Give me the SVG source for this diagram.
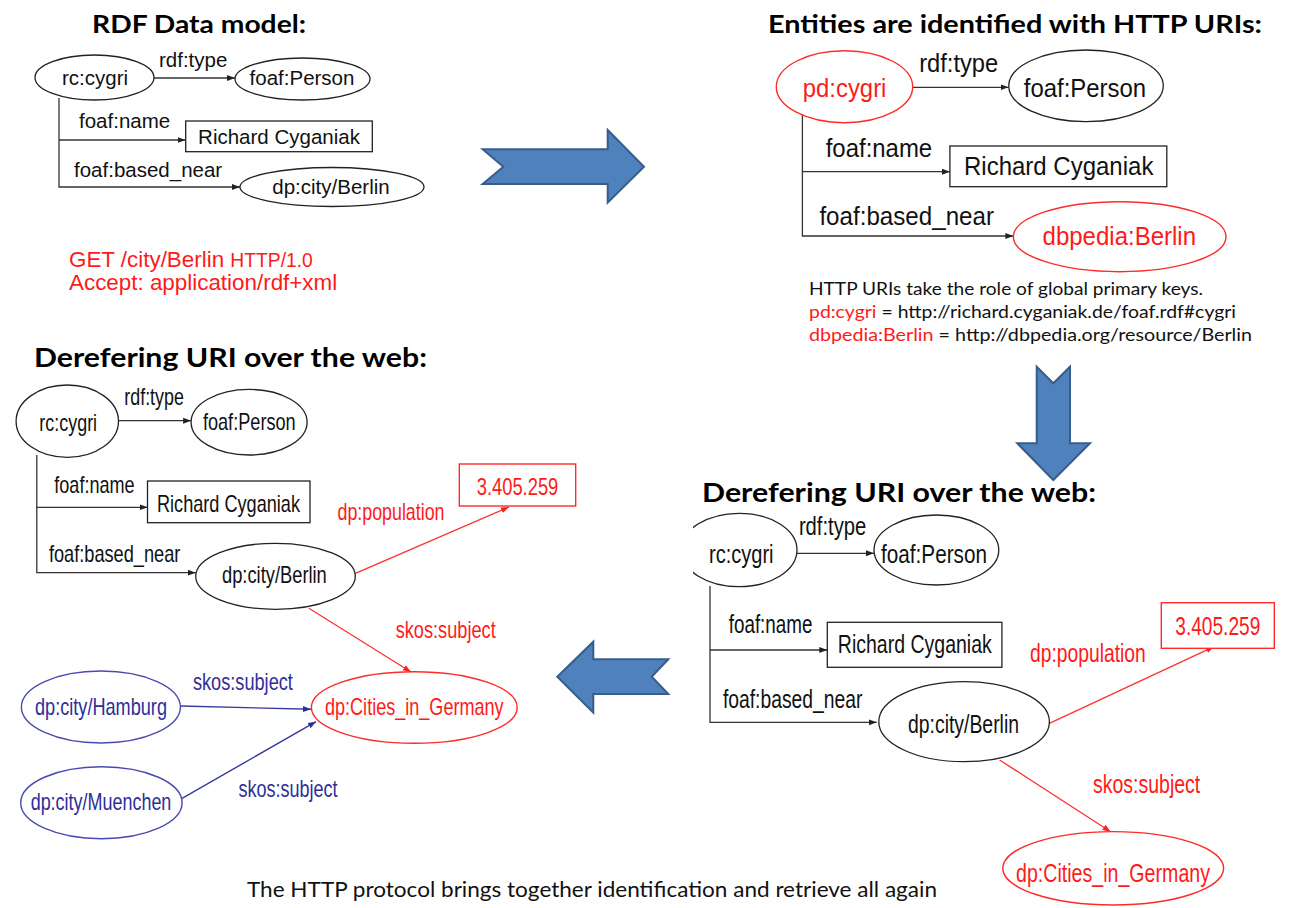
<svg xmlns="http://www.w3.org/2000/svg" width="1291" height="908" viewBox="0 0 1291 908">
<style>
.s{font-family:"Liberation Sans",Arial,sans-serif;fill:#111}
.h{font-family:Lato,"Open Sans",sans-serif;font-weight:bold;fill:#000}
.c{font-family:Lato,"Open Sans",sans-serif;fill:#111}
.r{fill:#ff1a1a}
.b{fill:#2e2e9a}
.nk{fill:#fff;stroke:#222;stroke-width:1.3}
.nr{fill:#fff;stroke:#ff2a2a;stroke-width:1.4}
.nb{fill:#fff;stroke:#4a4ab0;stroke-width:1.4}
.ek{fill:none;stroke:#333;stroke-width:1.3}
.er{fill:none;stroke:#ff3030;stroke-width:1.3}
.eb{fill:none;stroke:#3a3a9e;stroke-width:1.4}
.ba{fill:#4f81bd;stroke:#385d8a;stroke-width:2;stroke-linejoin:miter}
</style>
<defs>
<marker id="ak" markerUnits="userSpaceOnUse" markerWidth="9" markerHeight="8" refX="8" refY="4" orient="auto"><path d="M0,1 L8,4 L0,7 Z" fill="#222"/></marker>
<marker id="ar" markerUnits="userSpaceOnUse" markerWidth="9" markerHeight="8" refX="8" refY="4" orient="auto"><path d="M0,1 L8,4 L0,7 Z" fill="#ff2020"/></marker>
<marker id="ab" markerUnits="userSpaceOnUse" markerWidth="9" markerHeight="8" refX="8" refY="4" orient="auto"><path d="M0,1 L8,4 L0,7 Z" fill="#2e2e9a"/></marker>
<clipPath id="clipR"><rect x="693" y="400" width="600" height="500"/></clipPath>
</defs>
<rect width="1291" height="908" fill="#fff"/>

<!-- titles and free text -->
<g id="titles">
<text class="h" x="92" y="33.3" font-size="24" textLength="214" lengthAdjust="spacingAndGlyphs">RDF Data model:</text>
<text class="h" x="768" y="33.3" font-size="24" textLength="494" lengthAdjust="spacingAndGlyphs">Entities are identified with HTTP URIs:</text>
<text class="h" x="34" y="366.7" font-size="26" textLength="393" lengthAdjust="spacingAndGlyphs">Derefering URI over the web:</text>
<text class="h" x="702" y="501.7" font-size="26" textLength="394" lengthAdjust="spacingAndGlyphs">Derefering URI over the web:</text>
</g>
<g id="http-request">
<text class="s r" x="69" y="267" font-size="22.4">GET /city/Berlin <tspan font-size="19.3">HTTP/1.0</tspan></text>
<text class="s r" x="69" y="290" font-size="22.4">Accept: application/rdf+xml</text>
</g>
<g id="uri-notes">
<text class="c" x="809" y="295" font-size="18" textLength="394" lengthAdjust="spacingAndGlyphs">HTTP URIs take the role of global primary keys.</text>
<text class="c" x="809" y="318" font-size="18" textLength="427" lengthAdjust="spacingAndGlyphs"><tspan class="r">pd:cygri</tspan> = http://richard.cyganiak.de/foaf.rdf#cygri</text>
<text class="c" x="809" y="341" font-size="18" textLength="443" lengthAdjust="spacingAndGlyphs"><tspan class="r">dbpedia:Berlin</tspan> = http://dbpedia.org/resource/Berlin</text>
</g>
<g id="caption">
<text class="c" x="247" y="896.7" font-size="21" textLength="690" lengthAdjust="spacingAndGlyphs">The HTTP protocol brings together identification and retrieve all again</text>
</g>

<!-- block arrows -->
<g id="arrow-right"><polygon class="ba" points="482.7,149.3 607.7,149.3 607.7,130 644,166.7 607.7,202.7 607.7,184 482.7,184 503.3,166.7"/></g>
<g id="arrow-down"><polygon class="ba" points="1036.7,366.7 1053.3,383.3 1070,366.7 1070,443.3 1090,443.3 1053.3,480 1017.3,443.3 1036.7,443.3"/></g>
<g id="arrow-left"><polygon class="ba" points="557.3,676.7 593.3,641.7 593.3,659.3 668.3,659.3 651.7,676.7 668.3,694 593.3,694 593.3,712.7"/></g>

<!-- connectors -->
<g id="connectors">
<!-- panel 1 -->
<line class="ek" x1="154" y1="78" x2="235" y2="78" marker-end="url(#ak)"/>
<polyline class="ek" points="59,98 59,187 240,187" marker-end="url(#ak)"/>
<line class="ek" x1="59" y1="140" x2="185.5" y2="140" marker-end="url(#ak)"/>
<!-- panel 2 -->
<line class="ek" x1="912.8" y1="87.3" x2="1008.5" y2="87.3" marker-end="url(#ak)"/>
<polyline class="ek" points="802.4,113 802.4,236 1013.4,236" marker-end="url(#ak)"/>
<line class="ek" x1="802.4" y1="171.7" x2="949.9" y2="171.7" marker-end="url(#ak)"/>
<!-- panel 3 -->
<line class="ek" x1="118.6" y1="420.7" x2="191.1" y2="420.7" marker-end="url(#ak)"/>
<polyline class="ek" points="36.8,455 36.8,572.7 195.7,572.7" marker-end="url(#ak)"/>
<line class="ek" x1="36.8" y1="507.3" x2="147.5" y2="507.3" marker-end="url(#ak)"/>
<line class="er" x1="355.4" y1="573.3" x2="509" y2="507" marker-end="url(#ar)"/>
<line class="er" x1="308.9" y1="608.3" x2="411" y2="672" marker-end="url(#ar)"/>
<line class="eb" x1="180.4" y1="706" x2="311" y2="709.3" marker-end="url(#ab)"/>
<line class="eb" x1="182.1" y1="798.3" x2="316" y2="721.7" marker-end="url(#ab)"/>
<!-- panel 4 -->
<line class="ek" x1="796.9" y1="553.3" x2="874" y2="553.3" marker-end="url(#ak)"/>
<polyline class="ek" points="710,586 710,722.3 876.8,722.3" marker-end="url(#ak)"/>
<line class="ek" x1="710" y1="650" x2="827.3" y2="650" marker-end="url(#ak)"/>
<line class="er" x1="1049.4" y1="723.3" x2="1214" y2="646.7" marker-end="url(#ar)"/>
<line class="er" x1="999.6" y1="760" x2="1110.6" y2="831.7" marker-end="url(#ar)"/>
</g>

<!-- edge labels -->
<g id="edge-labels">
<text class="s" x="159" y="67" font-size="20.5">rdf:type</text>
<text class="s" x="79" y="128" font-size="20.5">foaf:name</text>
<text class="s" x="74" y="177" font-size="20.5">foaf:based_near</text>

<text class="s" x="919.2" y="71.7" font-size="26" textLength="79" lengthAdjust="spacingAndGlyphs">rdf:type</text>
<text class="s" x="825.7" y="156.7" font-size="26" textLength="106.5" lengthAdjust="spacingAndGlyphs">foaf:name</text>
<text class="s" x="819.4" y="225" font-size="26" textLength="174.6" lengthAdjust="spacingAndGlyphs">foaf:based_near</text>

<text class="s" x="124.3" y="405" font-size="24" textLength="59.6" lengthAdjust="spacingAndGlyphs">rdf:type</text>
<text class="s" x="54.3" y="493.3" font-size="24" textLength="80.3" lengthAdjust="spacingAndGlyphs">foaf:name</text>
<text class="s" x="48.9" y="561.7" font-size="24" textLength="131.5" lengthAdjust="spacingAndGlyphs">foaf:based_near</text>
<text class="s r" x="337.5" y="520" font-size="24" textLength="107" lengthAdjust="spacingAndGlyphs">dp:population</text>
<text class="s r" x="395.7" y="638.3" font-size="24" textLength="100" lengthAdjust="spacingAndGlyphs">skos:subject</text>
<text class="s b" x="192.9" y="690" font-size="24" textLength="100" lengthAdjust="spacingAndGlyphs">skos:subject</text>
<text class="s b" x="238.6" y="796.7" font-size="24" textLength="99" lengthAdjust="spacingAndGlyphs">skos:subject</text>

<text class="s" x="798.9" y="535" font-size="26" textLength="67.4" lengthAdjust="spacingAndGlyphs">rdf:type</text>
<text class="s" x="728.7" y="633.3" font-size="26" textLength="83.8" lengthAdjust="spacingAndGlyphs">foaf:name</text>
<text class="s" x="722.9" y="708.3" font-size="26" textLength="139.5" lengthAdjust="spacingAndGlyphs">foaf:based_near</text>
<text class="s r" x="1030" y="661.7" font-size="26" textLength="115.7" lengthAdjust="spacingAndGlyphs">dp:population</text>
<text class="s r" x="1093" y="793.3" font-size="26" textLength="107.3" lengthAdjust="spacingAndGlyphs">skos:subject</text>
</g>

<!-- panel 1 nodes -->
<g id="p1-rc-cygri"><ellipse class="nk" cx="94.5" cy="77.5" rx="59.5" ry="22.5"/><text class="s" x="95" y="84.5" font-size="20.5" text-anchor="middle">rc:cygri</text></g>
<g id="p1-foaf-person"><ellipse class="nk" cx="302.5" cy="79" rx="67.5" ry="21"/><text class="s" x="302" y="84.5" font-size="20.5" text-anchor="middle">foaf:Person</text></g>
<g id="p1-name"><rect class="nk" x="185.7" y="121" width="186.6" height="30.7"/><text class="s" x="279" y="143.5" font-size="20.5" text-anchor="middle">Richard Cyganiak</text></g>
<g id="p1-berlin"><ellipse class="nk" cx="332" cy="187" rx="92" ry="19.5"/><text class="s" x="331" y="194" font-size="20.5" text-anchor="middle">dp:city/Berlin</text></g>

<!-- panel 2 nodes -->
<g id="p2-pd-cygri"><ellipse class="nr" cx="844.5" cy="86.7" rx="68.2" ry="36"/><text class="s r" x="844.6" y="96.7" font-size="26" text-anchor="middle" textLength="83.6" lengthAdjust="spacingAndGlyphs">pd:cygri</text></g>
<g id="p2-foaf-person"><ellipse class="nk" cx="1086" cy="85.8" rx="77.3" ry="35.8"/><text class="s" x="1085" y="96.7" font-size="26" text-anchor="middle" textLength="122.3" lengthAdjust="spacingAndGlyphs">foaf:Person</text></g>
<g id="p2-name"><rect class="nk" x="949.9" y="146" width="216.9" height="40.7"/><text class="s" x="1058.7" y="175" font-size="26" text-anchor="middle" textLength="189.4" lengthAdjust="spacingAndGlyphs">Richard Cyganiak</text></g>
<g id="p2-dbpedia-berlin"><ellipse class="nr" cx="1119.7" cy="236.7" rx="106.3" ry="35"/><text class="s r" x="1119.3" y="245" font-size="26" text-anchor="middle" textLength="153.4" lengthAdjust="spacingAndGlyphs">dbpedia:Berlin</text></g>

<!-- panel 3 nodes -->
<g id="p3-rc-cygri"><ellipse class="nk" cx="67.3" cy="421.2" rx="51.2" ry="36.2"/><text class="s" x="68.2" y="430.7" font-size="24" text-anchor="middle" textLength="57.8" lengthAdjust="spacingAndGlyphs">rc:cygri</text></g>
<g id="p3-foaf-person"><ellipse class="nk" cx="249.1" cy="422.2" rx="58" ry="32.8"/><text class="s" x="249.3" y="430" font-size="24" text-anchor="middle" textLength="92.8" lengthAdjust="spacingAndGlyphs">foaf:Person</text></g>
<g id="p3-name"><rect class="nk" x="147.5" y="481" width="162.5" height="41.7"/><text class="s" x="228.5" y="511.7" font-size="24" text-anchor="middle" textLength="143" lengthAdjust="spacingAndGlyphs">Richard Cyganiak</text></g>
<g id="p3-berlin"><ellipse class="nk" cx="275.5" cy="576.3" rx="79.8" ry="33"/><text class="s" x="274.4" y="583.3" font-size="24" text-anchor="middle" textLength="104.8" lengthAdjust="spacingAndGlyphs">dp:city/Berlin</text></g>
<g id="p3-population"><rect class="nr" x="459.3" y="464" width="116.4" height="42"/><text class="s r" x="517.5" y="495" font-size="24" text-anchor="middle" textLength="81.6" lengthAdjust="spacingAndGlyphs">3.405.259</text></g>
<g id="p3-cities"><ellipse class="nr" cx="414.3" cy="707.5" rx="102.9" ry="35.8"/><text class="s r" x="414.3" y="715" font-size="24" text-anchor="middle" textLength="178.6" lengthAdjust="spacingAndGlyphs">dp:Cities_in_Germany</text></g>
<g id="p3-hamburg"><ellipse class="nb" cx="100.9" cy="707" rx="79.5" ry="36"/><text class="s b" x="101" y="715" font-size="24" text-anchor="middle" textLength="132" lengthAdjust="spacingAndGlyphs">dp:city/Hamburg</text></g>
<g id="p3-muenchen"><ellipse class="nb" cx="101.4" cy="802.7" rx="80.7" ry="36"/><text class="s b" x="101" y="810" font-size="24" text-anchor="middle" textLength="140.7" lengthAdjust="spacingAndGlyphs">dp:city/Muenchen</text></g>

<!-- panel 4 nodes -->
<g id="p4-rc-cygri"><ellipse class="nk" cx="739" cy="550" rx="58" ry="36.7" clip-path="url(#clipR)"/><text class="s" x="741.3" y="563.3" font-size="26" text-anchor="middle" textLength="64.5" lengthAdjust="spacingAndGlyphs">rc:cygri</text></g>
<g id="p4-foaf-person"><ellipse class="nk" cx="936.4" cy="550" rx="62.4" ry="35"/><text class="s" x="934" y="563.3" font-size="26" text-anchor="middle" textLength="106" lengthAdjust="spacingAndGlyphs">foaf:Person</text></g>
<g id="p4-name"><rect class="nk" x="827.3" y="622.3" width="174.6" height="45"/><text class="s" x="914.8" y="653.3" font-size="26" text-anchor="middle" textLength="154" lengthAdjust="spacingAndGlyphs">Richard Cyganiak</text></g>
<g id="p4-berlin"><ellipse class="nk" cx="964.1" cy="721.7" rx="85.3" ry="40"/><text class="s" x="963.5" y="733.3" font-size="26" text-anchor="middle" textLength="111" lengthAdjust="spacingAndGlyphs">dp:city/Berlin</text></g>
<g id="p4-population"><rect class="nr" x="1161.3" y="602.7" width="113" height="45.6"/><text class="s r" x="1217.8" y="635" font-size="26" text-anchor="middle" textLength="85" lengthAdjust="spacingAndGlyphs">3.405.259</text></g>
<g id="p4-cities"><ellipse class="nr" cx="1113.2" cy="868.3" rx="110.4" ry="36.7"/><text class="s r" x="1113" y="881.7" font-size="26" text-anchor="middle" textLength="194" lengthAdjust="spacingAndGlyphs">dp:Cities_in_Germany</text></g>
</svg>
